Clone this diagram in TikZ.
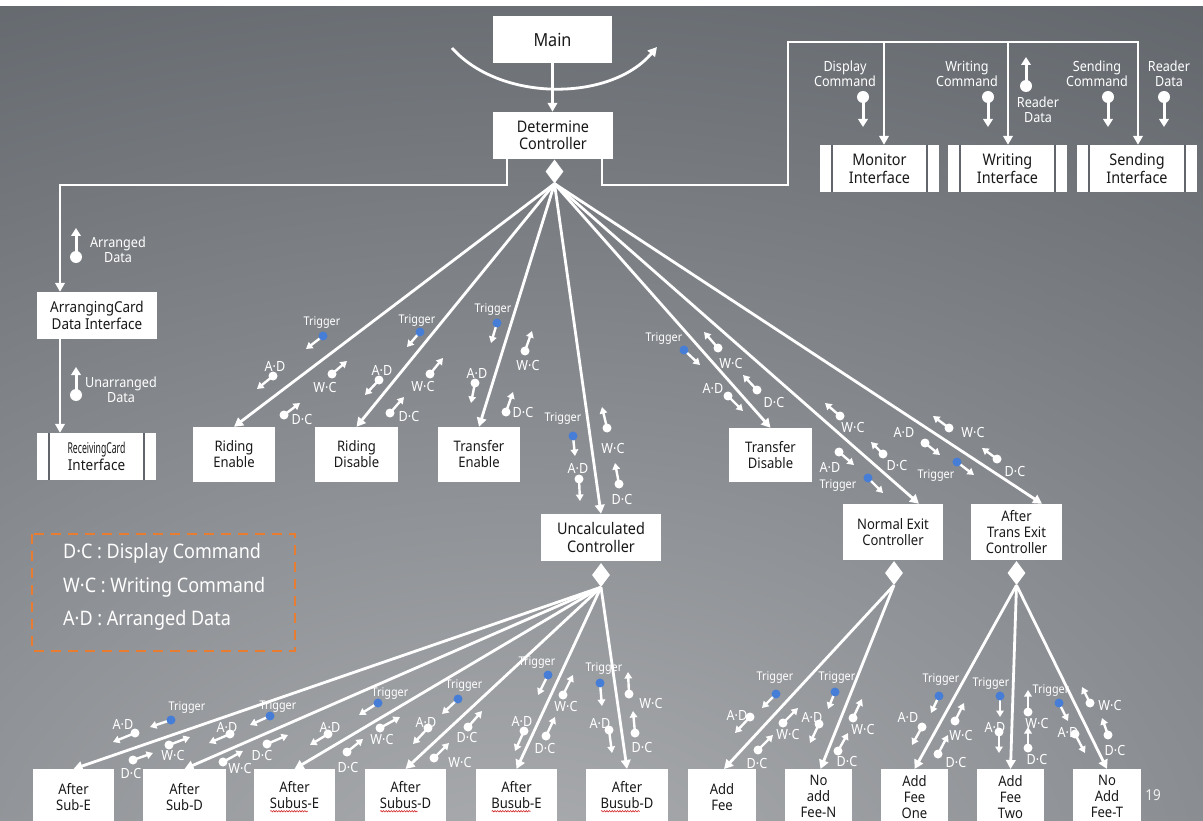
\documentclass[tikz,border=0pt]{standalone}
\usepackage{fontspec}
\setmainfont{Noto Sans}[FakeStretch=0.9]
\usepackage{graphicx}
\usetikzlibrary{arrows.meta,shapes.geometric,decorations.pathmorphing}
\definecolor{bgtop}{RGB}{88,93,99}
\definecolor{bglight}{RGB}{172,174,177}
\definecolor{trig}{RGB}{70,125,215}
\definecolor{legendc}{RGB}{232,125,50}
\definecolor{txt}{RGB}{25,25,25}
\definecolor{gapc}{RGB}{98,102,108}
\definecolor{squig}{RGB}{210,40,40}
\newsavebox\wvbox
\newlength\wvlen
\newcommand\sigW[2]{\draw[sig] #1 -- #2; \fill[white] #1 circle (4.5);}
\newcommand\sigB[2]{\draw[sig] #1 -- #2; \fill[trig] #1 circle (4.5);}
\newcommand\lbl[2]{\node[lab] at #1 {#2};}
\newcommand\trgl[1]{\node[trg] at #1 {Trigger};}
\newcommand\wv[1]{\sbox\wvbox{#1}\setlength\wvlen{\wd\wvbox}%
  \rlap{\raisebox{-3pt}{\tikz[x=1pt,y=1pt,baseline=0pt]\draw[squig, line width=0.6pt, decorate, decoration={snake, amplitude=0.7pt, segment length=2.6pt}] (0,0) -- (\wvlen,0);}}\usebox\wvbox}
\tikzset{
  box/.style={fill=white, text=txt, align=center, inner sep=0pt, font=\fontsize{14.5}{16}\selectfont},
  ifc/.style={box, minimum width=119, minimum height=47, font=\fontsize{16}{18}\selectfont},
  bbox/.style={box, minimum height=55, anchor=north},
  dia/.style={diamond, fill=white, inner sep=0pt, minimum width=18, minimum height=24},
  conn/.style={draw=white, line width=2.8, -{Triangle[length=9,width=9.5]}},
  sig/.style={draw=white, line width=2.4, -{Triangle[length=6.5,width=7.5]}},
  bigsig/.style={draw=white, line width=3, -{Triangle[length=8,width=9.5]}},
  lab/.style={text=white, inner sep=0pt, font=\fontsize{14}{14}\selectfont},
  trg/.style={text=white, inner sep=0pt, font=\fontsize{12}{12}\selectfont},
  side/.style={text=white, inner sep=0pt, align=center, font=\fontsize{14}{15}\selectfont},
  gapline/.style={draw=gapc, line width=1.6},
}
\begin{document}
\begin{tikzpicture}[x=1pt,y=-1pt]
\useasboundingbox (0,0) rectangle (1203,821);
\clip (0,0) rectangle (1203,821);
% background
\fill[white] (0,0) rectangle (1203,821);
\fill[bgtop] (0,7) rectangle (1203,821);
\begin{scope}
\clip (0,7) rectangle (1203,821);
\shade[inner color=bglight, outer color=bgtop] (520,900) ellipse (1700 and 1150);
\end{scope}

% ---------- boxes ----------
\node[box, minimum width=119, minimum height=47, font=\fontsize{18}{20}\selectfont] (main) at (552.5,39.5) {Main};
\node[box, minimum width=120, minimum height=47, font=\fontsize{16}{17}\selectfont] (det) at (553,135.5) {Determine\\Controller};
\node[dia] (dd) at (554.5,171.5) {};
\node[ifc] (mon) at (879.5,168.5) {Monitor\\Interface};
\node[ifc] (wri) at (1007.5,168.5) {Writing\\Interface};
\node[ifc, minimum width=120] (snd) at (1137,168.5) {Sending\\Interface};
\node[box, minimum width=120, minimum height=47, font=\fontsize{15}{17}\selectfont] (arr) at (97,315.5) {ArrangingCard\\Data Interface};
\node[ifc, font=\fontsize{15}{17}\selectfont] (rec) at (96.5,456.5) {\scalebox{0.64}[1]{ReceivingCard}\\Interface};
\node[box, minimum width=82, minimum height=55] (re) at (234,454.5) {Riding\\Enable};
\node[box, minimum width=83, minimum height=55] (rd) at (356.5,454.5) {Riding\\Disable};
\node[box, minimum width=82, minimum height=55] (te) at (479,454.5) {Transfer\\Enable};
\node[box, minimum width=83, minimum height=54] (td) at (770.5,455) {Transfer\\Disable};
\node[box, minimum width=120, minimum height=47, font=\fontsize{16}{17.5}\selectfont] (uc) at (601,537.5) {Uncalculated\\Controller};
\node[dia] (ud) at (601,575) {};
\node[box, minimum width=100, minimum height=56] (ne) at (893,532) {Normal Exit\\Controller};
\node[dia] (nd) at (894,573) {};
\node[box, minimum width=91, minimum height=56] (at) at (1016.5,532) {After\\Trans Exit\\Controller};
\node[dia] (ad) at (1016.5,573) {};

\foreach \n in {mon,wri,snd,rec}{
  \draw[gapline] ([xshift=12]\n.north west) -- ([xshift=12]\n.south west);
  \draw[gapline] ([xshift=-12]\n.north east) -- ([xshift=-12]\n.south east);
}

% bottom row
\node[bbox, minimum width=81] (b1) at (73.5,769) {After\\Sub-E};
\node[bbox, minimum width=83] (b2) at (184.5,769) {After\\Sub-D};
\node[bbox, minimum width=81] (b3) at (294.5,769) {After\\\wv{Subus}-E};
\node[bbox, minimum width=81] (b4) at (405.5,769) {After\\\wv{Subus}-D};
\node[bbox, minimum width=81] (b5) at (516.5,769) {After\\\wv{Busub}-E};
\node[bbox, minimum width=82] (b6) at (627,769) {After\\\wv{Busub}-D};
\node[bbox, minimum width=68] (b7) at (722,769) {Add\\Fee};
\node[bbox, minimum width=67] (b8) at (818.5,769) {No\\add\\Fee-N};
\node[bbox, minimum width=67] (b9) at (914.5,769) {Add\\Fee\\One};
\node[bbox, minimum width=67] (b10) at (1010.5,769) {Add\\Fee\\Two};
\node[bbox, minimum width=68] (b11) at (1107,769) {No\\Add\\Fee-T};

\node[text=white!88!gray, inner sep=0pt, font=\fontsize{15}{15}\selectfont] (pg) at (1153,795) {19};

% legend
\draw[legendc, line width=2.6, dash pattern=on 10 off 7] (32,534) rectangle (295,651);
\node[anchor=west, text=white, inner sep=0pt, font=\fontsize{20}{20}\selectfont] (l1) at (63,553) {D·C : Display Command};
\node[anchor=west, text=white, inner sep=0pt, font=\fontsize{20}{20}\selectfont] (l2) at (63,587) {W·C : Writing Command};
\node[anchor=west, text=white, inner sep=0pt, font=\fontsize{20}{20}\selectfont] (l3) at (63,620) {A·D : Arranged Data};

% ---------- top / side labels ----------
\node[side] at (845,73.5) {Display\\Command};
\node[side] at (967,73.5) {Writing\\Command};
\node[side] at (1038,109.5) {Reader\\Data};
\node[side] at (1097,73.5) {Sending\\Command};
\node[side] at (1169,73.5) {Reader\\Data};
\node[side] at (118,249.5) {Arranged\\Data};
\node[side] at (121,389.5) {Unarranged\\Data};
\draw[bigsig] (863,97) -- (863,127); \fill[white] (863,97) circle (6);
\draw[bigsig] (988,97) -- (988,127); \fill[white] (988,97) circle (6);
\draw[bigsig] (1026,86) -- (1026,57); \fill[white] (1026,86) circle (6);
\draw[bigsig] (1108,97) -- (1108,127); \fill[white] (1108,97) circle (6);
\draw[bigsig] (1164,97) -- (1164,127); \fill[white] (1164,97) circle (6);
\draw[bigsig] (76,257) -- (76,228); \fill[white] (76,257) circle (6);
\draw[bigsig] (76,395) -- (76,367); \fill[white] (76,395) circle (6);

% ---------- signal groups (upper) ----------
% Riding Enable
\trgl{(322,323)} \sigB{(323,336)}{(306,349)}
\lbl{(275,366)}{A·D} \sigW{(273,376)}{(257,389)}
\lbl{(325,388)}{W·C} \sigW{(332,374)}{(347,361)}
\lbl{(302,420)}{D·C} \sigW{(284,415)}{(300,403)}
% Riding Disable
\trgl{(417,321)} \sigB{(420,332)}{(407,347)}
\lbl{(382,370)}{A·D} \sigW{(379,380)}{(365,395)}
\lbl{(423,387)}{W·C} \sigW{(430,374)}{(443,358)}
\lbl{(409,417)}{D·C} \sigW{(390,413)}{(404,397)}
% Transfer Enable
\trgl{(493,310)} \sigB{(497,323)}{(491,343)}
\lbl{(528,366)}{W·C} \sigW{(525,351)}{(532,331)}
\lbl{(477,373)}{A·D} \sigW{(475,383)}{(471,403)}
\lbl{(523,413)}{D·C} \sigW{(506,412)}{(513,392)}
% Uncalculated
\trgl{(563,419)} \sigB{(573,436)}{(575,456)}
\lbl{(578,468)}{A·D} \sigW{(579,479)}{(580,501)}
\lbl{(613,449)}{W·C} \sigW{(607,428)}{(602,407)}
\lbl{(622,500)}{D·C} \sigW{(619,484)}{(615,463)}
% Transfer Disable
\trgl{(664,339)} \sigB{(684,350)}{(700,365)}
\lbl{(731,364)}{W·C} \sigW{(718,348)}{(704,332)}
\lbl{(713,388)}{A·D} \sigW{(728,396)}{(743,411)}
\lbl{(774,403)}{D·C} \sigW{(757,390)}{(743,375)}
% Normal Exit
\lbl{(853,428)}{W·C} \sigW{(840,416)}{(825,403)}
\lbl{(830,467)}{A·D} \sigW{(839,452)}{(854,465)}
\lbl{(897,466)}{D·C} \sigW{(883,454)}{(871,442)}
\trgl{(838,486)} \sigB{(868,478)}{(883,493)}
% After Trans Exit
\lbl{(904,432)}{A·D} \sigW{(925,443)}{(940,455)}
\lbl{(973,433)}{W·C} \sigW{(949,428)}{(933,416)}
\lbl{(1015,472)}{D·C} \sigW{(997,459)}{(982,448)}
\trgl{(936,476)} \sigB{(957,462)}{(974,475)}

% ---------- signal groups (lower) ----------
% Sub-E
\trgl{(187,708)} \sigB{(171,720)}{(150,727)}
\lbl{(123,724)}{A·D} \sigW{(135,733)}{(113,742)}
\lbl{(173,755)}{W·C} \sigW{(169,745)}{(190,737)}
\lbl{(131,773)}{D·C} \sigW{(133,760)}{(153,753)}
% Sub-D
\trgl{(278,707)} \sigB{(270,716)}{(250,725)}
\lbl{(227,727)}{A·D} \sigW{(230,734)}{(209,743)}
\lbl{(262,755)}{D·C} \sigW{(267,744)}{(288,735)}
\lbl{(240,768)}{W·C} \sigW{(223,762)}{(243,751)}
% Subus-E
\trgl{(390,694)} \sigB{(378,703)}{(359,715)}
\lbl{(330,727)}{A·D} \sigW{(328,734)}{(310,745)}
\lbl{(382,739)}{W·C} \sigW{(380,728)}{(400,717)}
\lbl{(348,767)}{D·C} \sigW{(347,752)}{(363,739)}
% Subus-D
\trgl{(464,686)} \sigB{(458,699)}{(442,714)}
\lbl{(426,722)}{A·D} \sigW{(428,728)}{(413,744)}
\lbl{(467,737)}{D·C} \sigW{(468,727)}{(482,711)}
\lbl{(460,762)}{W·C} \sigW{(434,758)}{(449,743)}
% Busub-E
\trgl{(537,663)} \sigB{(548,675)}{(538,695)}
\lbl{(566,706)}{W·C} \sigW{(563,695)}{(573,675)}
\lbl{(522,721)}{A·D} \sigW{(524,731)}{(515,751)}
\lbl{(545,748)}{D·C} \sigW{(546,736)}{(555,717)}
% Busub-D
\trgl{(604,669)} \sigB{(600,683)}{(602,706)}
\lbl{(600,723)}{A·D} \sigW{(609,730)}{(612,753)}
\lbl{(651,703)}{W·C} \sigW{(629,694)}{(628,672)}
\lbl{(642,747)}{D·C} \sigW{(635,733)}{(633,711)}
% Add Fee
\trgl{(775,678)} \sigB{(776,694)}{(762,708)}
\lbl{(737,715)}{A·D} \sigW{(750,717)}{(735,733)}
\lbl{(788,734)}{W·C} \sigW{(783,723)}{(798,708)}
\lbl{(757,763)}{D·C} \sigW{(758,750)}{(773,735)}
% No add Fee-N
\trgl{(837,678)} \sigB{(835,692)}{(828,709)}
\lbl{(812,717)}{A·D} \sigW{(819,724)}{(810,743)}
\lbl{(863,729)}{W·C} \sigW{(853,718)}{(862,699)}
\lbl{(847,761)}{D·C} \sigW{(838,751)}{(848,733)}
% Add Fee One
\trgl{(941,680)} \sigB{(939,696)}{(931,713)}
\lbl{(908,717)}{A·D} \sigW{(922,727)}{(912,745)}
\lbl{(961,735)}{W·C} \sigW{(955,721)}{(964,703)}
\lbl{(956,762)}{D·C} \sigW{(938,754)}{(948,735)}
% Add Fee Two
\trgl{(991,684)} \sigB{(1000,696)}{(1000,717)}
\lbl{(995,727)}{A·D} \sigW{(999,732)}{(999,753)}
\lbl{(1037,723)}{W·C} \sigW{(1028,712)}{(1028,690)}
\lbl{(1037,759)}{D·C} \sigW{(1028,748)}{(1028,727)}
% No Add Fee-T
\trgl{(1051,691)} \sigB{(1059,703)}{(1068,721)}
\lbl{(1068,732)}{A·D} \sigW{(1075,734)}{(1085,753)}
\lbl{(1110,705)}{W·C} \sigW{(1090,703)}{(1082,687)}
\lbl{(1115,750)}{D·C} \sigW{(1108,735)}{(1102,718)}

% ---------- connectors ----------
\coordinate (ca) at (452,48);
\coordinate (cb) at (657,47);
\draw[conn] (ca) .. controls (500,102) and (610,102) .. (cb);
\draw[conn] (main.south) -- (main.south |- det.north);

\coordinate (jl1) at (507,185);
\coordinate (jl2) at (60,185);
\draw[conn] ([xshift=-46]det.south) -- (jl1) -- (jl2) -- ([xshift=-37]arr.north);
\draw[conn] ([xshift=-37]arr.south) -- ([xshift=-36.5]rec.north);

\coordinate (jr1) at (602,185);
\coordinate (jr2) at (788,185);
\coordinate (jr3) at (788,42);
\coordinate (jr4) at (1138,42);
\coordinate (jm) at (884,42);
\coordinate (jw) at (1008,42);
\draw[conn] ([xshift=49]det.south) -- (jr1) -- (jr2) -- (jr3) -- (jr4) -- ([xshift=1]snd.north);
\draw[conn] (jm) -- ([xshift=4.5]mon.north);
\draw[conn] (jw) -- ([xshift=0.5]wri.north);

\foreach \t in {re,rd,te,uc,td} \draw[conn] (dd.south) -- (\t.north);
\draw[conn] (dd.south) -- ([xshift=26]ne.north);
\draw[conn] (dd.south) -- ([xshift=25.5]at.north);

\foreach \t in {b1,b2,b3,b4,b5,b6} \draw[conn] (ud.south) -- (\t.north);
\foreach \t in {b7,b8} \draw[conn] (nd.south) -- ([xshift=2]\t.north);
\foreach \t in {b9,b10,b11} \draw[conn] (ad.south) -- (\t.north);
\end{tikzpicture}
\end{document}
